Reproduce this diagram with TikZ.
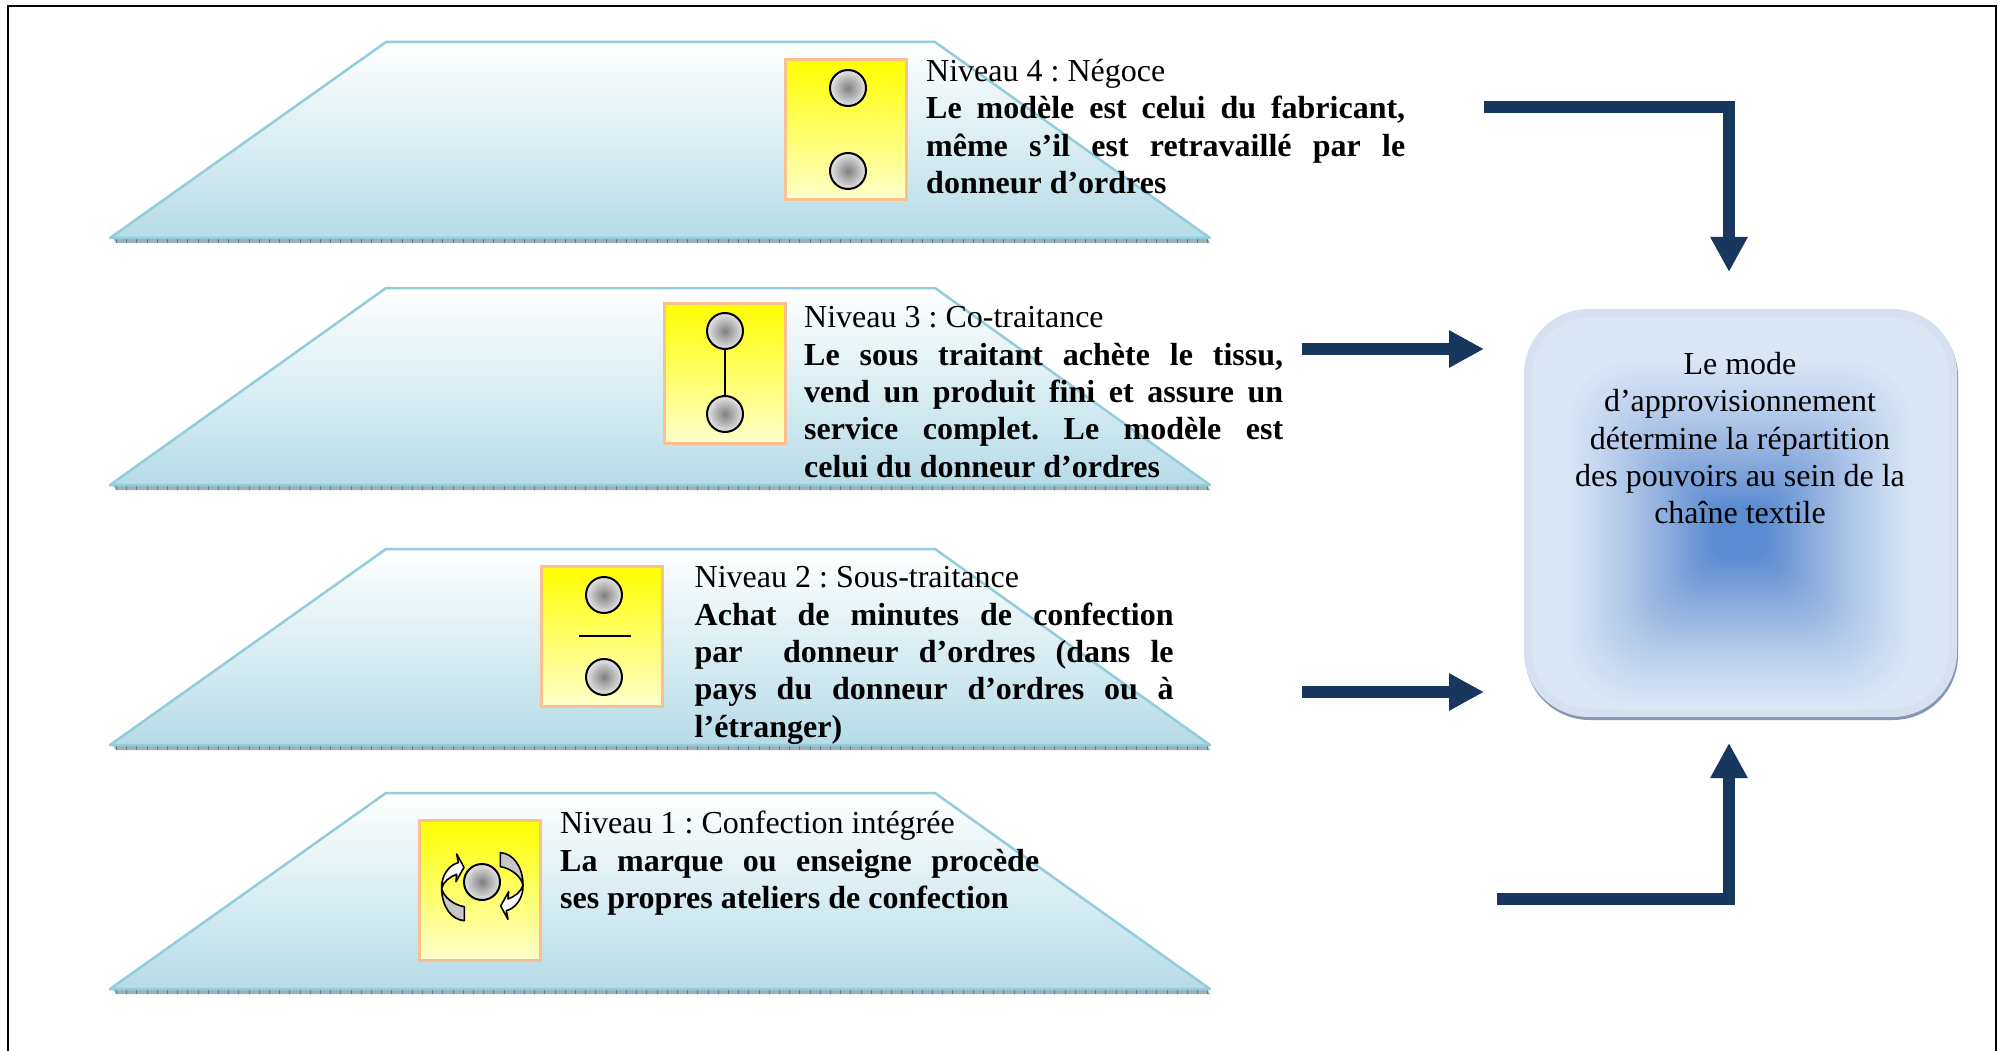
\documentclass[tikz,border=0pt]{standalone}
\usepackage{fontspec}
\setmainfont{Liberation Serif}
\frenchspacing
\usetikzlibrary{arrows.meta}
\definecolor{navy}{HTML}{17375E}
\definecolor{trapline}{HTML}{92CDDC}
\definecolor{trapfill}{HTML}{B6DCE7}
\definecolor{bandgrey}{HTML}{9DB0B6}
\definecolor{bandtick}{HTML}{55808E}
\definecolor{paneledge}{HTML}{D6E0EE}
\definecolor{panelfill}{HTML}{DBE6F5}
\definecolor{panelcore}{HTML}{5B8BD0}
\definecolor{panelshadow}{HTML}{8496B2}
\definecolor{swatchline}{HTML}{FAC090}
\newlength{\linew}\setlength{\linew}{479pt}
\newcommand{\jline}[1]{\makebox[\linew][s]{#1}}
\tikzset{
  x=1pt,y=-1pt,
  body/.style={font=\fontsize{32pt}{37.3pt}\selectfont,text=black},
  lvltext/.style={body,anchor=north west,inner sep=0pt,align=left},
  dot/.style={circle,draw=black,line width=2pt,minimum size=36pt,inner sep=0pt,inner color=black!50,outer color=black!10},
  swatch/.style={rectangle,draw=swatchline,line width=3pt,minimum width=121pt,minimum height=140pt,inner sep=0pt,top color=yellow,middle color=yellow!50,bottom color=yellow!20},
  flow/.style={draw=navy,line width=12pt,-{Triangle[length=35pt,width=35pt]}},
  thinline/.style={draw=black,line width=2pt},
  curl/.style={draw=black,line width=1.6pt,line join=round},
}
\newcommand{\trap}[2]{%
  \fill[bandgrey] (113,#2) -- (1207,#2) -- (1210,#2+5) -- (116,#2+5) -- cycle;
  \draw[bandtick,line width=5pt,dash pattern=on 1pt off 9.2pt] (116,#2+2.5) -- (1208,#2+2.5);
  \shade[top color=white,bottom color=trapfill,draw=trapline,line width=2.5pt,line join=round]
    (110,#2) -- (386,#1) -- (935,#1) -- (1210,#2) -- cycle;
}
\begin{document}
\begin{tikzpicture}
\useasboundingbox (0,0) rectangle (2006,1051);
\fill[white] (0,0) rectangle (2006,1051);
\draw[black,line width=2.5pt] (8,1051) -- (8,6) -- (1996,6) -- (1996,1051);

\trap{42}{238}
\trap{288}{485}
\trap{549}{745}
\trap{793}{989}

% panel
\fill[panelshadow,rounded corners=65pt] (1525,312) rectangle (1958,720);
\fill[paneledge,rounded corners=65pt] (1524,309) rectangle (1957,717);
\fill[panelfill,rounded corners=58pt] (1532,317) rectangle (1949,709);
\foreach \t in {0,...,45}{
  \pgfmathsetmacro{\s}{1-\t/53}
  \pgfmathsetmacro{\m}{100*(\t/45)^1.25}
  \pgfmathsetmacro{\rr}{max(2,70*\s)}
  \fill[panelcore!\m!panelfill,rounded corners=\rr pt]
    ({1740-180*\s},{532-178*\s}) rectangle ({1740+180*\s},{532+178*\s});
}
\node[body,align=center,anchor=north,inner sep=0pt] (panel) at (1740,352)
  {Le mode\\d’approvisionnement\\détermine la répartition\\des pouvoirs au sein de la\\chaîne textile};
\coordinate (panelN) at (1729,272);
\coordinate (panelS) at (1729,743);
\coordinate (panelW1) at (1484,349);
\coordinate (panelW2) at (1484,692);

% level 4
\node[swatch] (s4) at (845.5,130) {};
\node[dot] (d4a) at (848,88) {};
\node[dot] (d4b) at (848,171) {};
\node[lvltext] (t4) at (926,59) {Niveau 4 : Négoce\\\textbf{\jline{Le modèle est celui du fabricant,}}\\\textbf{\jline{même s’il est retravaillé par le}}\\\textbf{donneur d’ordres}};

% level 3
\node[swatch] (s3) at (724.5,373) {};
\node[dot] (d3a) at (725,331) {};
\node[dot] (d3b) at (725,414) {};
\draw[thinline] (d3a) -- (d3b);
\node[lvltext] (t3) at (804,306.5) {Niveau 3 : Co-traitance\\\textbf{\jline{Le sous traitant achète le tissu,}}\\\textbf{\jline{vend un produit fini et assure un}}\\\textbf{\jline{service complet. Le modèle est}}\\\textbf{celui du donneur d’ordres}};

% level 2
\node[swatch] (s2) at (602,636) {};
\node[dot] (d2a) at (604,595) {};
\node[dot] (d2b) at (604,677) {};
\coordinate (r2a) at (579,636);
\coordinate (r2b) at (631,636);
\draw[thinline] (r2a) -- (r2b);
\node[lvltext] (t2) at (694.5,566.5) {Niveau 2 : Sous-traitance\\\textbf{\jline{Achat de minutes de confection}}\\\textbf{\jline{par\ \ donneur d’ordres (dans le}}\\\textbf{\jline{pays du donneur d’ordres ou à}}\\\textbf{l’étranger)}};

% level 1
\node[swatch] (s1) at (480,890) {};
\node[dot] (d1) at (482,882) {};
\begin{scope}[shift={(380,780)},x=0.3333pt,y=-0.3333pt]
\foreach \a in {0,180}{
  \begin{scope}[rotate around={\a:(307,320)}]
    \filldraw[curl,fill=black!22] (253,422) .. controls (215,420) and (185,380) .. (185,325) .. controls (190,350) and (220,375) .. (253,380) -- cycle;
    \filldraw[curl,fill=white] (185,325) .. controls (183,290) and (205,255) .. (235,248) -- (230,222) -- (252,262) -- (228,305) -- (230,283) .. controls (210,290) and (190,305) .. (185,325) -- cycle;
  \end{scope}
}
\end{scope}
\node[lvltext] (t1) at (560,811) {Niveau 1 : Confection intégrée\\\textbf{\jline{La marque ou enseigne procède}}\\\textbf{ses propres ateliers de confection}};

% arrows
\coordinate (a4) at (1484,107);
\coordinate (a1) at (1497,899);
\coordinate (a3) at (1302,349);
\coordinate (a2) at (1302,692);
\draw[flow] (a4) -| (panelN);
\draw[flow] (a3) -- (panelW1);
\draw[flow] (a2) -- (panelW2);
\draw[flow] (a1) -| (panelS);
\end{tikzpicture}
\end{document}
